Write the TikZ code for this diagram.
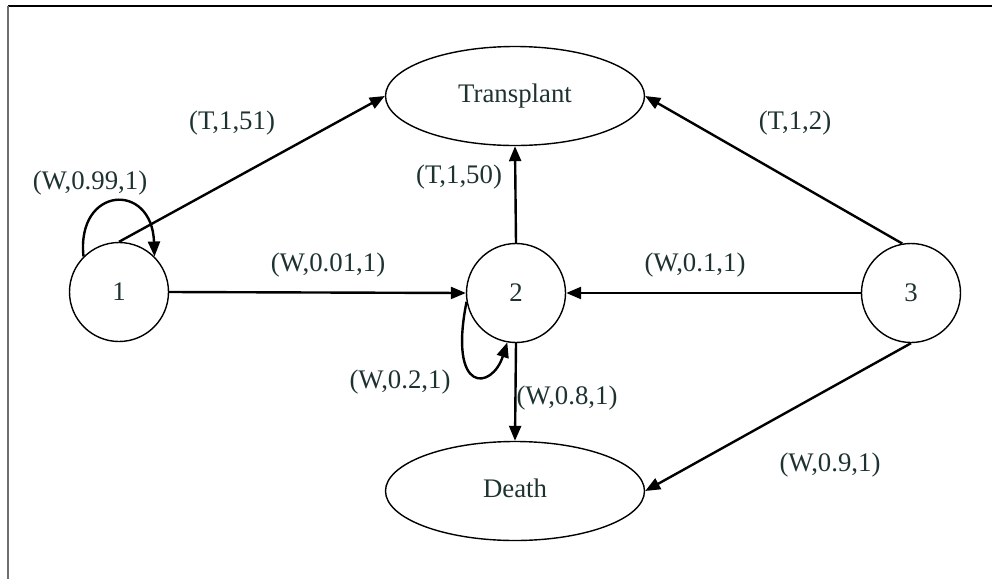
\documentclass[tikz,border=0pt]{standalone}
\usepackage{fontspec}
\setmainfont{Liberation Serif}
\usetikzlibrary{arrows.meta,shapes.geometric}
\definecolor{txt}{RGB}{30,50,50}
\definecolor{framegray}{RGB}{110,110,110}
\begin{document}
\begin{tikzpicture}[x=0.5pt,y=-0.5pt,
  every node/.style={font=\fontsize{13.4}{15}\selectfont, text=txt},
  state/.style={circle,draw=black,line width=0.7pt,minimum size=49.5pt,inner sep=0pt},
  sink/.style={ellipse,draw=black,line width=0.7pt,minimum width=129.5pt,minimum height=49.5pt,inner sep=0pt},
  arr/.style={draw=black,line width=1.2pt,-{Triangle[length=7.5pt,width=6pt]}},
  lbl/.style={inner sep=1pt}]
\useasboundingbox (0,0) rectangle (992,579);
% frame
\draw[black,line width=0.9pt] (8,6) -- (992,6);
\draw[framegray,line width=1pt] (8,6) -- (8,579);
% nodes
\node[state] (n1) at (119,292) {1};
\node[state] (n2) at (516,293) {2};
\node[state] (n3) at (911,293) {3};
\node[sink] (tr) at (515,96) {\raisebox{3pt}{Transplant}};
\node[sink] (de) at (515,491) {\raisebox{3pt}{Death}};
% edges
\draw[arr] (n1.north) -- (tr.west);
\draw[arr] (n2.north) -- (tr.south);
\draw[arr] (n3.100) -- (tr.east);
\draw[arr] (n1.east) -- (n2.west);
\draw[arr] (n3.west) -- (n2.east);
\draw[arr] (n2.south) -- (de.north);
\draw[arr] (n3.south) -- (de.east);
% self loops
\draw[arr] (n1.135) .. controls (76,186) and (152,181) .. (n1.45);
\draw[arr] (n2.190) .. controls (448,395) and (492,390) .. (n2.260);
% labels
\node[lbl] (l1) at (232,123) {(T,1,51)};
\node[lbl] (l2) at (90,183) {(W,0.99,1)};
\node[lbl] (l3) at (328,265) {(W,0.01,1)};
\node[lbl] (l4) at (459,177) {(T,1,50)};
\node[lbl] (l5) at (695,265) {(W,0.1,1)};
\node[lbl] (l6) at (795,123) {(T,1,2)};
\node[lbl] (l7) at (400,382) {(W,0.2,1)};
\node[lbl] (l8) at (567,398) {(W,0.8,1)};
\node[lbl] (l9) at (830,465) {(W,0.9,1)};
\end{tikzpicture}
\end{document}
